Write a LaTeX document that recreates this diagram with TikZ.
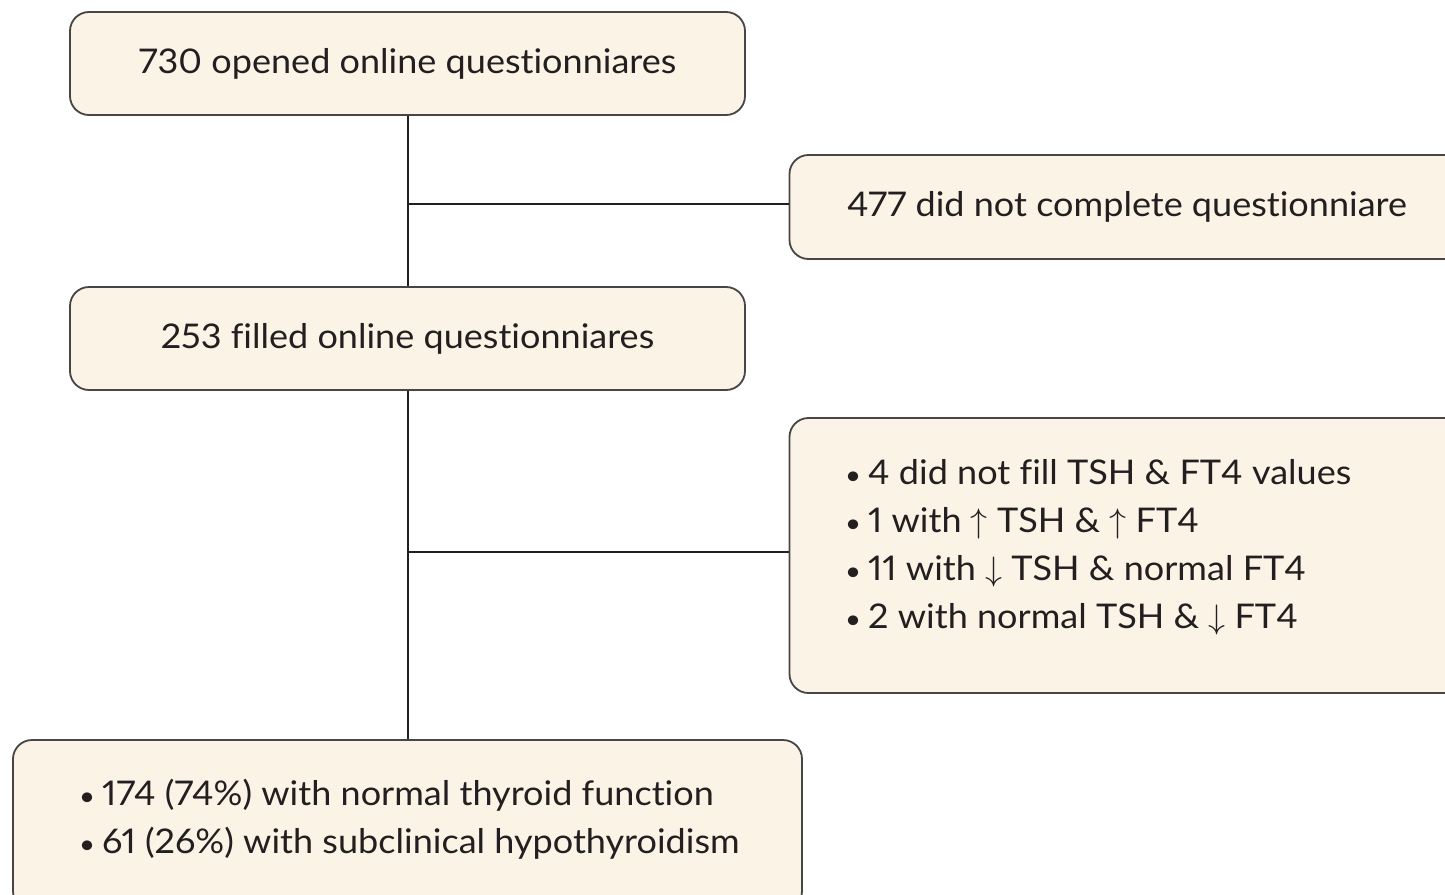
\RequirePackage{fix-cm}
\documentclass[tikz,border=0pt]{standalone}
\usepackage{fontspec}
\setmainfont{Lato}[FakeStretch=1.06, Ligatures=NoCommon, Numbers=Proportional]
\definecolor{boxfill}{RGB}{250,243,230}
\definecolor{boxline}{RGB}{70,70,70}
\definecolor{ink}{RGB}{35,31,32}
\newcommand{\bul}{{\fontsize{26}{26}\selectfont\textbullet}\hspace{7pt}}
\newcommand{\upar}{$\uparrow$}
\newcommand{\dnar}{$\downarrow$}
\begin{document}
\begin{tikzpicture}[x=1pt,y=-1pt,
  box/.style={draw=boxline, line width=1.8pt, fill=boxfill, rounded corners=19pt,
    inner sep=0pt, text=ink, font=\fontsize{34}{48}\selectfont},
  linetext/.style={anchor=base west, inner sep=0pt, text=ink, font=\fontsize{34}{48}\selectfont},
  conn/.style={draw=ink, line width=2pt}]
\clip (0,0) rectangle (1445,894);
% boxes
\node[box, minimum width=675pt, minimum height=103pt] (opened) at (407.5,63.5) {730 opened online questionniares};
\node[box, minimum width=675pt, minimum height=104pt] (incomplete) at (1127,207) {477 did not complete questionniare};
\node[box, minimum width=675pt, minimum height=103pt] (filled) at (407.5,338.5) {253 filled online questionniares};
\node[box, minimum width=675pt, minimum height=275pt] (excluded) at (1127,555.5) {};
\node[box, minimum width=789pt, minimum height=170pt] (final) at (407.5,825) {};
% texts of multi-line boxes
\node[linetext] (ex1) at (845,484) {\bul 4 did not fill TSH \& FT4 values};
\node[linetext] (ex2) at (845,532) {\bul 1 with \upar{} TSH \& \upar{} FT4};
\node[linetext] (ex3) at (845,580) {\bul 11 with \dnar{} TSH \& normal FT4};
\node[linetext] (ex4) at (845,628) {\bul 2 with normal TSH \& \dnar{} FT4};
\node[linetext] (fi1) at (79,805) {\bul 174 (74\%) with normal thyroid function};
\node[linetext] (fi2) at (79,853) {\bul 61 (26\%) with subclinical hypothyroidism};
% connectors
\coordinate (b1) at (408,204);
\coordinate (b2) at (408,552);
\draw[conn] (opened.south) -- (filled.north);
\draw[conn] (filled.south) -- (final.north);
\draw[conn] (b1) -- (b1 -| incomplete.west);
\draw[conn] (b2) -- (b2 -| excluded.west);
\end{tikzpicture}
\end{document}
